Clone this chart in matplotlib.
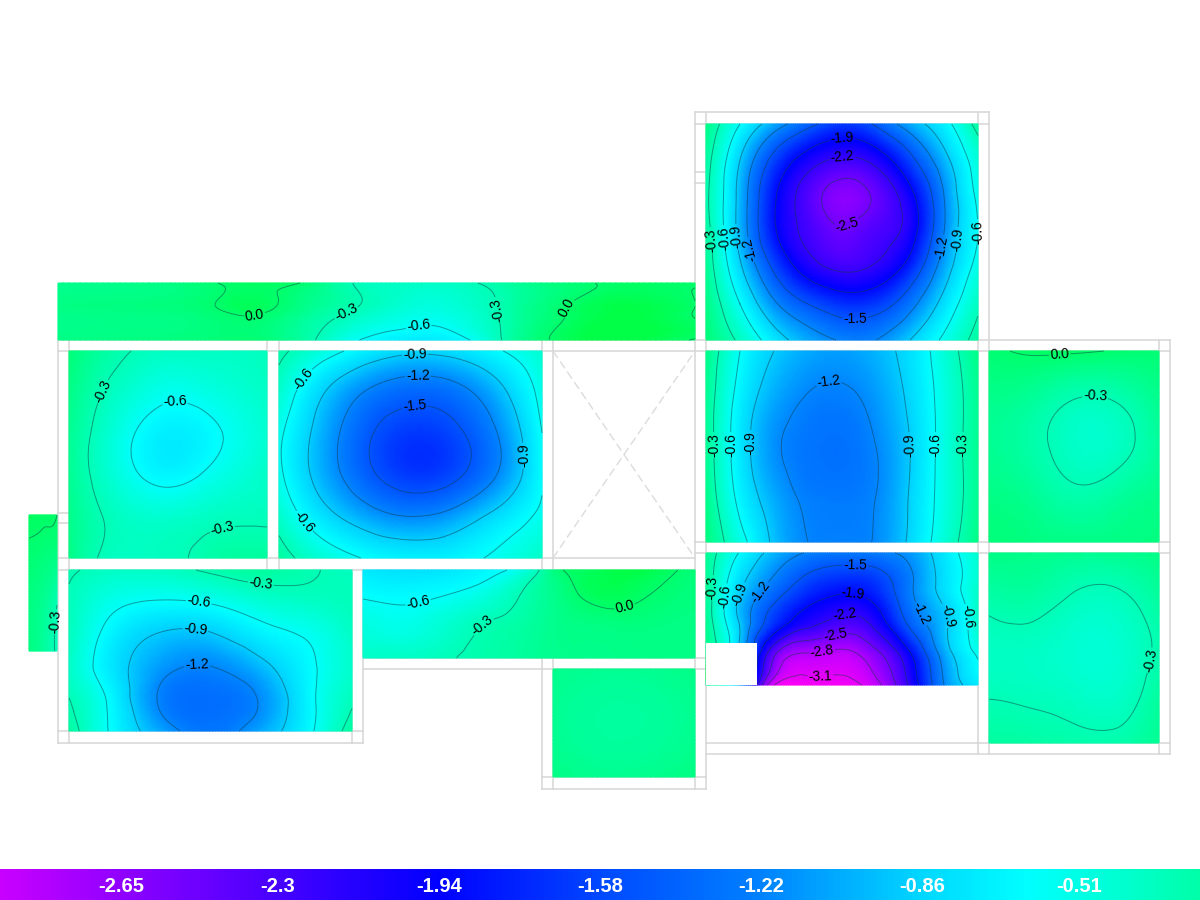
import numpy as np
import matplotlib
matplotlib.use("Agg")
import matplotlib.pyplot as plt
import matplotlib.tri as mtri
from matplotlib.colors import LinearSegmentedColormap, Normalize

plt.rcParams["font.family"] = ["Liberation Sans", "DejaVu Sans"]

# contour levels and colour bar
levels = [-3.1, -2.8, -2.5, -2.2, -1.9, -1.5, -1.2, -0.9, -0.6, -0.3, 0.0]
bar_values = [-2.65, -2.3, -1.94, -1.58, -1.22, -0.86, -0.51]
bar_labels = ["-2.65", "-2.3", "-1.94", "-1.58", "-1.22", "-0.86", "-0.51"]
bar_min = -2.92
bar_max = -0.24

# colour stops, value -> rgb
stop_values = [-3.3, -2.92, -2.3, -1.94, -1.58, -1.22, -0.86, -0.62, -0.24, 0.0, 0.1]
stop_colors = ["#ff00f5", "#c800ff", "#4600ff", "#0000ff", "#0048ff", "#0082ff",
               "#00d7ff", "#00ffff", "#00ffaa", "#00ff6e", "#00ff46"]

# ===== slab panels =====
# left sliver
a_x = [29, 43, 57]
a_y = [515, 560, 605, 651]
a_z = [[0.03, 0.02, 0.00],
       [-0.03, -0.06, -0.10],
       [-0.08, -0.15, -0.30],
       [-0.08, -0.18, -0.32]]
a_lab = [(54, 622)]

# top strip
b_x = [58, 149, 218, 260, 300, 350, 422, 470, 513, 604, 695]
b_y = [283, 311, 340]
b_z = [[-0.12, -0.10, 0.00, 0.03, 0.00, -0.29, -0.36, -0.32, -0.18, 0.01, 0.01],
       [-0.10, -0.08, -0.01, 0.02, -0.12, -0.30, -0.50, -0.42, -0.22, 0.08, -0.005],
       [-0.10, -0.08, -0.04, -0.03, -0.20, -0.55, -0.75, -0.60, -0.20, 0.10, -0.01]]
b_lab = [(257, 329), (346, 312), (418, 322), (492, 312), (563, 305)]

# left room
c_x = [69, 102, 135, 168, 201, 234, 267]
c_y = [351, 392, 433, 474, 515, 558]
c_z = [[-0.05, -0.20, -0.31, -0.36, -0.36, -0.36, -0.33],
       [-0.10, -0.30, -0.45, -0.55, -0.52, -0.45, -0.38],
       [-0.15, -0.38, -0.60, -0.72, -0.68, -0.55, -0.42],
       [-0.15, -0.38, -0.58, -0.68, -0.60, -0.48, -0.38],
       [-0.12, -0.30, -0.40, -0.42, -0.38, -0.34, -0.33],
       [-0.10, -0.32, -0.36, -0.33, -0.27, -0.20, -0.20]]
c_lab = [(104, 392), (175, 412), (222, 527)]

# large room with the round bowl
d_x = [279, 323, 367, 411, 455, 499, 542]
d_y = [351, 392, 433, 474, 515, 558]
d_z = [[-0.25, -0.48, -0.72, -0.85, -0.80, -0.62, -0.42],
       [-0.40, -0.88, -1.22, -1.38, -1.30, -0.98, -0.52],
       [-0.55, -1.03, -1.45, -1.66, -1.56, -1.18, -0.60],
       [-0.55, -1.03, -1.43, -1.66, -1.56, -1.18, -0.62],
       [-0.40, -0.80, -1.08, -1.22, -1.10, -0.82, -0.55],
       [-0.20, -0.45, -0.62, -0.70, -0.68, -0.55, -0.38]]
d_lab = [(415, 359), (418, 384), (415, 412), (309, 383), (306, 520), (537, 455)]

# bottom left room
e_x = [69, 116, 163, 210, 257, 304, 352]
e_y = [570, 602, 634, 666, 698, 731]
e_z = [[-0.27, -0.37, -0.36, -0.27, -0.20, -0.27, -0.35],
       [-0.32, -0.55, -0.62, -0.58, -0.45, -0.38, -0.32],
       [-0.33, -0.72, -0.92, -0.92, -0.72, -0.58, -0.37],
       [-0.37, -0.80, -1.12, -1.20, -1.00, -0.68, -0.40],
       [-0.30, -0.72, -1.25, -1.35, -1.20, -0.72, -0.33],
       [-0.20, -0.68, -1.08, -1.30, -1.08, -0.70, -0.20]]
e_lab = [(197, 668), (195, 632), (198, 608), (259, 598)]

# middle strip
f_x = [363, 418, 473, 528, 560, 583, 638, 695]
f_y = [570, 599, 628, 658]
f_z = [[-0.75, -0.80, -0.70, -0.45, -0.02, 0.03, 0.10, -0.05],
       [-0.60, -0.62, -0.50, -0.25, -0.10, 0.00, 0.01, -0.08],
       [-0.48, -0.50, -0.32, -0.20, -0.12, -0.10, -0.08, -0.10],
       [-0.38, -0.36, -0.27, -0.18, -0.13, -0.12, -0.10, -0.10]]
f_lab = [(418, 602), (482, 625), (624, 604)]

# small room below the strip
g_x = [553, 624, 695]
g_y = [669, 723, 777]
g_z = [[-0.12, -0.15, -0.10],
       [-0.15, -0.20, -0.14],
       [-0.10, -0.14, -0.08]]
g_lab = []

# top right room
h_x = [706, 740, 774, 808, 842, 876, 910, 944, 978]
h_y = [124, 160, 196, 232, 268, 304, 340]
h_z = [[-0.10, -0.60, -1.05, -1.40, -1.65, -1.45, -1.05, -0.70, -0.20],
       [-0.20, -0.90, -1.60, -2.05, -2.25, -2.10, -1.60, -1.00, -0.45],
       [-0.25, -1.00, -1.85, -2.35, -2.62, -2.45, -2.00, -1.20, -0.55],
       [-0.20, -1.00, -1.85, -2.28, -2.47, -2.33, -2.05, -1.20, -0.60],
       [-0.15, -0.85, -1.55, -2.05, -2.25, -2.15, -1.75, -1.05, -0.50],
       [-0.10, -0.60, -1.15, -1.50, -1.70, -1.65, -1.30, -0.80, -0.35],
       [-0.05, -0.35, -0.75, -1.05, -1.22, -1.20, -0.90, -0.55, -0.20]]
h_lab = [(842, 134), (842, 155), (852, 236), (855, 313), (712, 240), (725, 238),
         (735, 237), (749, 250), (946, 248), (960, 240), (975, 233)]

# room under it
i_x = [706, 740, 774, 808, 842, 876, 910, 944, 978]
i_y = [351, 399, 447, 495, 542]
i_z = [[-0.10, -0.60, -0.90, -1.05, -1.10, -1.00, -0.80, -0.45, -0.10],
       [-0.15, -0.70, -1.05, -1.22, -1.25, -1.12, -0.85, -0.50, -0.15],
       [-0.15, -0.75, -1.15, -1.30, -1.33, -1.20, -0.90, -0.50, -0.15],
       [-0.12, -0.68, -1.05, -1.25, -1.28, -1.20, -0.88, -0.50, -0.15],
       [-0.08, -0.50, -0.95, -1.20, -1.22, -1.18, -0.85, -0.45, -0.10]]
i_lab = [(830, 391), (711, 445), (731, 445), (752, 443), (910, 445), (936, 445), (965, 445)]

# room with the deepest point, corner cut out
j_x = [706, 740, 774, 808, 842, 876, 910, 944, 978]
j_y = [553, 586, 619, 652, 685]
j_z = [[-0.15, -0.62, -1.00, -1.22, -1.28, -1.25, -1.12, -0.75, -0.40],
       [-0.15, -0.85, -1.30, -1.65, -1.80, -1.70, -1.25, -0.80, -0.40],
       [-0.15, -0.95, -1.65, -2.05, -2.25, -2.05, -1.40, -0.95, -0.40],
       [-0.10, -1.00, -2.40, -2.78, -2.85, -2.55, -1.90, -1.05, -0.55],
       [-0.10, -1.10, -3.10, -3.25, -3.25, -2.90, -2.15, -1.20, -0.75]]
j_lab = [(714, 588), (730, 597), (745, 596), (764, 595), (855, 570), (853, 593),
         (845, 617), (835, 634), (822, 651), (820, 672), (918, 615), (940, 617), (958, 618)]
j_cut = (706, 643, 51, 42)

# far right rooms
k_x = [989, 1032, 1075, 1118, 1159]
k_y = [351, 399, 447, 495, 542]
k_z = [[-0.03, 0.02, 0.02, -0.01, -0.04],
       [-0.12, -0.18, -0.30, -0.28, -0.13],
       [-0.15, -0.24, -0.38, -0.36, -0.18],
       [-0.10, -0.16, -0.26, -0.20, -0.12],
       [-0.05, -0.08, -0.10, -0.10, -0.08]]
k_lab = [(1060, 360), (1095, 399)]

l_x = [989, 1032, 1075, 1118, 1159]
l_y = [553, 600, 648, 695, 743]
l_z = [[-0.10, -0.12, -0.15, -0.14, -0.10],
       [-0.25, -0.23, -0.33, -0.34, -0.20],
       [-0.36, -0.36, -0.42, -0.42, -0.27],
       [-0.31, -0.33, -0.37, -0.38, -0.20],
       [-0.20, -0.22, -0.25, -0.25, -0.15]]
l_lab = [(1140, 658)]

# beam lines of the floor plan: (fixed, start, end)
h_lines = [(340, 58, 1170), (351, 58, 1170), (558, 58, 695), (570, 58, 695),
           (542, 695, 1170), (553, 695, 1170), (112, 695, 989), (124, 695, 989),
           (731, 58, 363), (743, 58, 363), (658, 363, 706), (669, 363, 706),
           (777, 542, 706), (789, 542, 706), (743, 706, 1170), (754, 706, 1170),
           (513, 58, 69), (523, 58, 69), (172, 695, 706), (183, 695, 706)]
v_lines = [(58, 340, 743), (69, 340, 743), (267, 340, 570), (279, 340, 570),
           (352, 570, 743), (363, 570, 743), (542, 340, 789), (553, 340, 789),
           (695, 112, 789), (706, 112, 789), (978, 112, 754), (989, 112, 754),
           (1159, 340, 754), (1170, 340, 754)]
# opening drawn with a dashed cross
opening_x = [553, 695]
opening_y = [351, 558]

cmap = LinearSegmentedColormap.from_list(
    "slab",
    [((v - stop_values[0]) / (stop_values[-1] - stop_values[0]), c)
     for v, c in zip(stop_values, stop_colors)])
norm = Normalize(stop_values[0], stop_values[-1])


def draw_panel(ax, xs, ys, zs, labels, upright=True):
    xx, yy = np.meshgrid(xs, ys)
    tri = mtri.Triangulation(xx.ravel(), yy.ravel())
    refiner = mtri.UniformTriRefiner(tri)
    fine_tri, fine_z = refiner.refine_field(np.array(zs, dtype=float).ravel(), subdiv=4)
    ax.tripcolor(fine_tri, fine_z, shading="gouraud", cmap=cmap, norm=norm, zorder=2)
    if len(labels) == 0:
        return
    cs = ax.tricontour(fine_tri, fine_z, levels=levels, colors="#123c46",
                       linestyles="solid", linewidths=0.7, alpha=0.5, zorder=3)
    texts = ax.clabel(cs, inline=True, inline_spacing=1, fontsize=10, colors="black",
                      fmt="%.1f", manual=labels)
    for t in texts:
        t.set_zorder(6)
        t.set_alpha(1)
        # near vertical labels read upwards
        if upright and t.get_rotation() > 270 and t.get_rotation() < 285:
            t.set_rotation(t.get_rotation() - 180)


fig = plt.figure(figsize=(12, 9), dpi=100)
ax = fig.add_axes([0, 0, 1, 1])
ax.set_xlim(0, 1200)
ax.set_ylim(900, 0)
ax.axis("off")

# ===== floor plan =====
for y, x0, x1 in h_lines:
    ax.plot([x0, x1], [y, y], color="#d6d6d6", linewidth=1.1, zorder=1)
for x, y0, y1 in v_lines:
    ax.plot([x, x], [y0, y1], color="#d6d6d6", linewidth=1.1, zorder=1)
ax.plot(opening_x, opening_y, color="#dcdcdc", linewidth=1, linestyle=(0, (6, 3)), zorder=1)
ax.plot(opening_x, opening_y[::-1], color="#dcdcdc", linewidth=1, linestyle=(0, (6, 3)), zorder=1)

# ===== slab panels =====
draw_panel(ax, a_x, a_y, a_z, a_lab)
draw_panel(ax, b_x, b_y, b_z, b_lab)
draw_panel(ax, c_x, c_y, c_z, c_lab)
draw_panel(ax, d_x, d_y, d_z, d_lab)
draw_panel(ax, e_x, e_y, e_z, e_lab)
draw_panel(ax, f_x, f_y, f_z, f_lab)
draw_panel(ax, g_x, g_y, g_z, g_lab)
draw_panel(ax, h_x, h_y, h_z, h_lab)
draw_panel(ax, i_x, i_y, i_z, i_lab)
draw_panel(ax, j_x, j_y, j_z, j_lab, upright=False)
draw_panel(ax, k_x, k_y, k_z, k_lab)
draw_panel(ax, l_x, l_y, l_z, l_lab, upright=False)

# cut corner of the deep room
ax.add_patch(plt.Rectangle(j_cut[:2], j_cut[2], j_cut[3], facecolor="white",
                           edgecolor="none", zorder=4))

# ===== colour bar =====
bar_ax = fig.add_axes([0, 0, 1, 31 / 900])
gradient = np.linspace(bar_min, bar_max, 600).reshape(1, -1)
bar_ax.imshow(gradient, aspect="auto", cmap=cmap, norm=norm,
              extent=[bar_min, bar_max, 0, 1])
bar_ax.axis("off")
for v, s in zip(bar_values, bar_labels):
    bar_ax.text(v, 0.42, s, color="white", fontsize=14.5, fontweight="bold",
                ha="center", va="center")

fig.savefig("out.png", dpi=100)
